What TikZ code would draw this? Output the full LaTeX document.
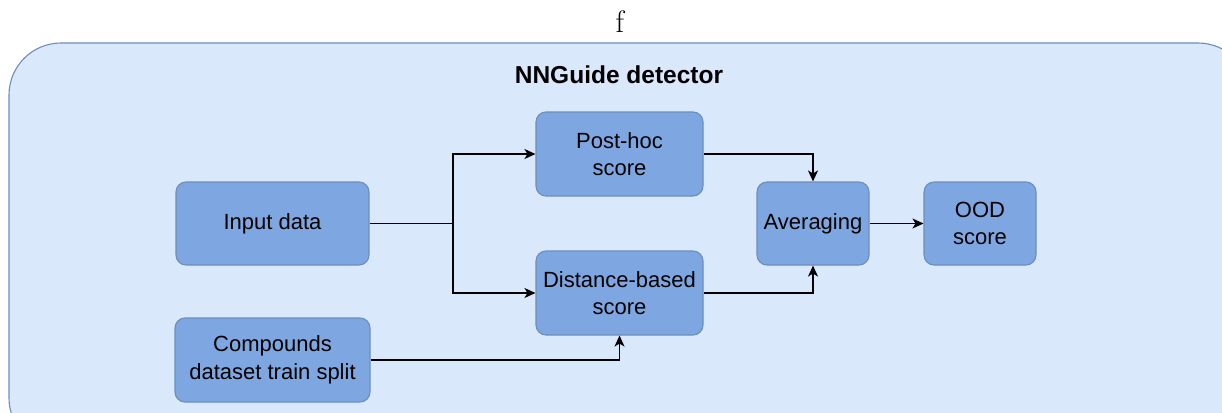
\documentclass[tikz,border=0pt]{standalone}
\usepackage{fontspec}
\newfontfamily\boxfont{Liberation Sans}
\usetikzlibrary{arrows.meta}
\usetikzlibrary{positioning}
\definecolor{paleblue}{HTML}{DAE8FC}
\definecolor{boxblue}{HTML}{7EA6E0}
\definecolor{edgeblue}{HTML}{6C8EBF}

\tikzset{
  block/.style={draw=edgeblue, fill=boxblue, line width=1.1pt, rounded corners=10pt,
    align=center, font=\boxfont\fontsize{22}{27.5}\selectfont, text=black, inner sep=0pt},
  wire/.style={line width=1.3pt, -{Stealth[length=11pt,width=10pt,inset=3pt]}},
}

\begin{document}
\begin{tikzpicture}[x=1pt,y=-1pt]
						\useasboundingbox (0,0) rectangle (1222,412);
						\clip (0,0) rectangle (1222,412);

						\def\bw{167}
						\def\bh{84}

						% outer frame
						\draw[draw=edgeblue, fill=paleblue, line width=1.1pt, rounded corners=52pt] (9,43) rectangle (1250,450);
						\node[font=\fontsize{31}{36}\selectfont] (f) at (620,22) {f};
						\node[font=\boxfont\bfseries\fontsize{24.5}{29}\selectfont] (title) at (619,75) {NNGuide detector};

						\node[block, minimum width=193, minimum height=83] (input) at (272.5,223.5) {Input data};
						\node[block, minimum width=195, minimum height=84] (train) at (272.5,360) {Compounds\\dataset train split};
						\node[block, minimum width=\bw, minimum height=\bh] (posthoc) at (619.5,154) {Post-hoc\\score};
						\node[block, minimum width=\bw, minimum height=\bh] (dist) at (619.5,293) {Distance-based\\score};
						\node[block, minimum width=112, minimum height=83] (avg) at (813,223.5) {Averaging};
						\node[block, minimum width=112, minimum height=83] (ood) at (980,223.5) {OOD\\score};

						\coordinate (split) at (453,223.5);

						\draw[line width=1.3pt] (input.east) -- (split);
						\draw[wire] (split) |- (posthoc.west);
						\draw[wire] (split) |- (dist.west);
						\draw[wire] (posthoc.east) -| (avg.north);
						\draw[wire] (dist.east) -| (avg.south);
						\draw[wire] (avg) -- (ood);
						\draw[wire] (train.east) -| (dist.south);
					\end{tikzpicture}
\end{document}
